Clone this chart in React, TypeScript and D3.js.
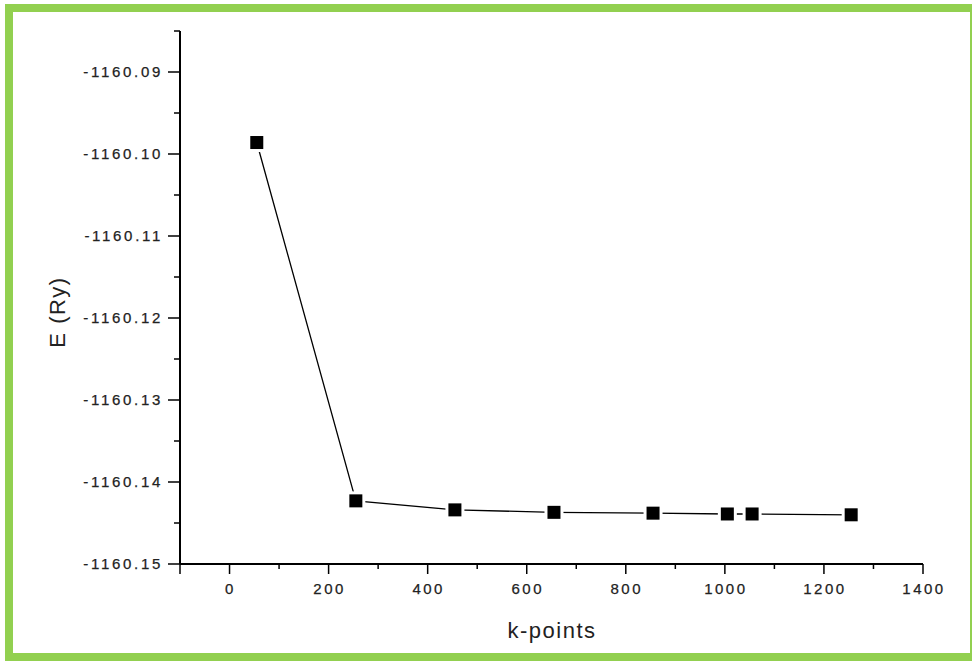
import React from "react";
import * as d3 from "d3";

// Total energy convergence with respect to the number of k-points
const kPoints = [55, 255, 455, 655, 855, 1005, 1055, 1255];
const energies = [
  -1160.0986, -1160.1423, -1160.1434, -1160.1437, -1160.1438, -1160.1439,
  -1160.1439, -1160.144,
];
const xTicks = [0, 200, 400, 600, 800, 1000, 1200, 1400];
const yTicks = [-1160.15, -1160.14, -1160.13, -1160.12, -1160.11, -1160.1, -1160.09];

const W = 972;
const H = 661;
const FONT = "'Liberation Sans', Arial, sans-serif";

export default function App() {
  const x = d3.scaleLinear().domain([-100, 1400]).range([180, 923]);
  const y = d3.scaleLinear().domain([-1160.15, -1160.085]).range([564, 31]);

  const xMinor = d3.range(-100, 1401, 100);
  const yMinor = d3.range(0, 14).map((i) => -1160.15 + i * 0.005);

  const pts: [number, number][] = kPoints.map((k, i) => [x(k), y(energies[i])]);
  const line = d3.line()(pts) ?? "";
  const ms = 13;

  return (
    <svg
      width={W}
      height={H}
      style={{ position: "absolute", left: 0, top: 0, background: "#fff" }}
    >
      {/* frame */}
      <rect x={9} y={8} width={965} height={649} fill="#fff" stroke="#92d050" strokeWidth={8} />

      {/* y axis */}
      <line x1={180} x2={180} y1={y(-1160.085)} y2={y(-1160.15)} stroke="#000" strokeWidth={2} />
      {yMinor.map((v, i) => {
        const major = i % 2 === 0;
        return (
          <line
            key={"ym" + i}
            x1={180}
            x2={major ? 168 : 174}
            y1={y(v)}
            y2={y(v)}
            stroke="#000"
            strokeWidth={1.5}
          />
        );
      })}
      {yTicks.map((v) => (
        <text
          key={"yt" + v}
          x={163}
          y={y(v)}
          dy="0.36em"
          textAnchor="end"
          fontFamily={FONT}
          fontSize={15}
          letterSpacing={2.7}
          fill="#222"
          stroke="#222"
          strokeWidth={0.25}
        >
          {d3.format(".2f")(v).replace("−", "-")}
        </text>
      ))}

      {/* x axis */}
      <line x1={x(-100)} x2={x(1400)} y1={564} y2={564} stroke="#000" strokeWidth={2} />
      {xMinor.map((v) => {
        const major = v % 200 === 0 || v === -100 || v === 1400;
        return (
          <line
            key={"xm" + v}
            x1={x(v)}
            x2={x(v)}
            y1={564}
            y2={major ? 574 : 569}
            stroke="#000"
            strokeWidth={1.5}
          />
        );
      })}
      {xTicks.map((v) => (
        <text
          key={"xt" + v}
          x={x(v) + 1}
          y={594}
          textAnchor="middle"
          fontFamily={FONT}
          fontSize={15}
          letterSpacing={2.5}
          fill="#222"
          stroke="#222"
          strokeWidth={0.25}
        >
          {v}
        </text>
      ))}

      {/* axis titles */}
      <text
        x={552}
        y={638}
        textAnchor="middle"
        fontFamily={FONT}
        fontSize={22}
        letterSpacing={1.5}
        fill="#222"
      >
        k-points
      </text>
      <text
        transform={`translate(65,312) rotate(-90)`}
        textAnchor="middle"
        fontFamily={FONT}
        fontSize={22}
        letterSpacing={1.5}
        fill="#222"
      >
        E (Ry)
      </text>

      {/* series */}
      <path d={line} fill="none" stroke="#000" strokeWidth={1.3} />
      {pts.map(([px, py], i) => (
        <g key={"p" + i}>
          <rect x={px - ms / 2 - 3} y={py - ms / 2 - 3} width={ms + 6} height={ms + 6} fill="#fff" />
          <rect x={px - ms / 2} y={py - ms / 2} width={ms} height={ms} fill="#000" />
        </g>
      ))}
    </svg>
  );
}
